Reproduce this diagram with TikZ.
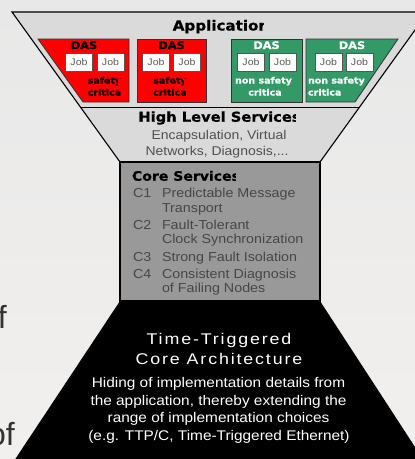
\documentclass[tikz,border=0pt]{standalone}
\usepackage{fontspec}
\setmainfont{Liberation Sans}
\newfontfamily\wide{Liberation Sans}[FakeStretch=1.1]
\newfontfamily\heavy{DejaVu Sans}[FakeStretch=1.08,BoldFeatures={FakeBold=0.7}]
\newfontfamily\spaced{Liberation Sans}[FakeStretch=1.15,LetterSpace=12]
\definecolor{bgtop}{HTML}{E8E8E8}
\definecolor{bgbot}{HTML}{F2F0EE}
\definecolor{trapfill}{HTML}{DADADA}
\definecolor{coregray}{HTML}{999999}
\definecolor{coretxt}{HTML}{474747}
\definecolor{subtxt}{HTML}{505050}
\definecolor{dasred}{HTML}{FF0000}
\definecolor{dasgreen}{HTML}{339966}
\definecolor{dasline}{HTML}{333333}
\definecolor{jobline}{HTML}{555555}
\definecolor{jobtxt}{HTML}{5A5A5A}
\definecolor{fragtxt}{HTML}{333333}
\begin{document}
\begin{tikzpicture}[x=1pt,y=-1pt,
  every node/.style={inner sep=0pt,outer sep=0pt},
  trapstyle/.style={draw=black,line width=1.1pt,fill=trapfill},
  divider/.style={draw=black,line width=1pt},
  corebox/.style={draw=black,line width=1.2pt,fill=coregray},
  redbox/.style={draw=dasline,line width=0.8pt,fill=dasred},
  greenbox/.style={draw=dasline,line width=0.8pt,fill=dasgreen},
  jobbox/.style={draw=jobline,fill=white,line width=0.8pt,minimum width=27pt,minimum height=18pt,
    font=\wide\fontsize{9.6}{10}\selectfont,text=jobtxt},
  dastitle/.style={anchor=base,font=\heavy\bfseries\fontsize{10.5}{12}\selectfont},
  dastext/.style={anchor=base,font=\heavy\bfseries\fontsize{8.8}{12}\selectfont},
  header/.style={anchor=base,font=\heavy\bfseries\fontsize{13.6}{15}\selectfont,text=black},
  subtext/.style={anchor=base,font=\wide\fontsize{12.7}{14}\selectfont,text=subtxt},
  coretext/.style={anchor=base west,font=\wide\fontsize{13}{14}\selectfont,text=coretxt},
  archtitle/.style={anchor=base,font=\spaced\fontsize{15.5}{17}\selectfont,text=white},
  archtext/.style={anchor=base,font=\wide\fontsize{14}{16}\selectfont,text=white},
  fragment/.style={anchor=base west,font=\fontsize{32}{34}\selectfont,text=fragtxt}]
\useasboundingbox (0,0) rectangle (415,459);
\clip (0,0) rectangle (415,459);
\shade[top color=bgtop,bottom color=bgbot] (0,0) rectangle (415,459);

% cut-off slide text on the left
\node[fragment] (fragf) at (-2,328) {f};
\node[fragment] (fragof) at (-12,445) {of};

% black base
\fill[black] (120,301) -- (320,301) -- (430,470) -- (8,470) -- cycle;

% upper trapezoid: Application + High Level Services
\path[trapstyle] (12,12) -- (428,12) -- (320,162) -- (120,162) -- cycle;
\draw[divider] (80.4,107) -- (359.6,107);

% core services box
\path[corebox] (120,162) rectangle (320,301);

% DAS boxes
\path[redbox] (38,39) -- (129,39) -- (129,102) -- (83,102) -- cycle;
\path[redbox] (137,39) rectangle (206,102);
\path[greenbox] (231,39) rectangle (302,102);
\path[greenbox] (306,39) -- (398,39) -- (355,102) -- (306,102) -- cycle;

% Application header
\node[header,font=\heavy\bfseries\fontsize{14}{15}\selectfont] (app) at (221,30.5) {Application};
\fill[trapfill] ([xshift=-5.3pt,yshift=-3pt]app.base east) rectangle ([xshift=1pt,yshift=12pt]app.base east);

% DAS titles
\node[dastitle,text=black] (das1) at (84,49) {DAS};
\node[dastitle,text=black] (das2) at (171.5,49) {DAS};
\node[dastitle,text=white] (das3) at (266.5,49) {DAS};
\node[dastitle,text=white] (das4) at (352,49) {DAS};

% Jobs
\node[jobbox] (j1a) at (79,62) {Job};
\node[jobbox] (j1b) at (110.5,62) {Job};
\node[jobbox] (j2a) at (156,62) {Job};
\node[jobbox] (j2b) at (187,62) {Job};
\node[jobbox] (j3a) at (251,62) {Job};
\node[jobbox] (j3b) at (282.5,62) {Job};
\node[jobbox] (j4a) at (328.5,62) {Job};
\node[jobbox] (j4b) at (359.5,62) {Job};

% DAS texts
\node[dastext,text=black] (s1a) at (104.5,83.5) {safety};
\fill[dasred] ([xshift=-2.9pt,yshift=-3pt]s1a.base east) rectangle ([xshift=1pt,yshift=5pt]s1a.base east);
\node[dastext,text=black] (s1b) at (104.5,95.5) {critica};
\node[dastext,text=black] (s2a) at (170,83.5) {safety};
\fill[dasred] ([xshift=-2.9pt,yshift=-3pt]s2a.base east) rectangle ([xshift=1pt,yshift=5pt]s2a.base east);
\node[dastext,text=black] (s2b) at (170,95.5) {critica};
\node[dastext,text=white] (s3a) at (263.5,83.5) {non safety};
\node[dastext,text=white] (s3b) at (265,95.5) {critica};
\begin{scope}
  \clip (306,39) -- (397,39) -- (354,102) -- (306,102) -- cycle;
  \node[dastext,text=white,anchor=base west] (s4a) at (308,83.5) {non safety};
  \node[dastext,text=white,anchor=base west] (s4b) at (308,95.5) {critica};
\end{scope}

% High level services
\node[header] (hls) at (219.5,121.7) {High Level Services};
\fill[trapfill] ([xshift=-4.2pt,yshift=-3pt]hls.base east) rectangle ([xshift=1pt,yshift=12pt]hls.base east);
\node[subtext] (hls1) at (219,139) {Encapsulation, Virtual};
\node[subtext] (hls2) at (217,155) {Networks, Diagnosis,...};

% Core services
\node[header,anchor=base west,font=\heavy\bfseries\fontsize{13}{14}\selectfont] (cs) at (132,180.7) {Core Services};
\fill[coregray] ([xshift=-3.9pt,yshift=-3pt]cs.base east) rectangle ([xshift=1pt,yshift=11pt]cs.base east);
\node[coretext] (c1) at (133,197.7) {C1};
\node[coretext] (c1a) at (162,197.7) {Predictable Message};
\node[coretext] (c1b) at (162,212) {Transport};
\node[coretext] (c2) at (133,229.3) {C2};
\node[coretext] (c2a) at (162,229.3) {Fault-Tolerant};
\node[coretext] (c2b) at (162,243.5) {Clock Synchronization};
\node[coretext] (c3) at (133,261) {C3};
\node[coretext] (c3a) at (162,261) {Strong Fault Isolation};
\node[coretext] (c4) at (133,278.3) {C4};
\node[coretext] (c4a) at (162,278.3) {Consistent Diagnosis};
\node[coretext] (c4b) at (162,292.6) {of Failing Nodes};

% Time-triggered core architecture
\node[archtitle] (tt1) at (219,344.3) {Time-Triggered};
\node[archtitle] (tt2) at (219,364) {Core Architecture};
\node[archtext] (h1) at (218.5,387.3) {Hiding of implementation details from};
\node[archtext] (h2) at (218.5,405) {the application, thereby extending the};
\node[archtext] (h3) at (218.5,422.7) {range of implementation choices};
\node[archtext] (h4) at (219,440.7) {(e.g. TTP/C, Time-Triggered Ethernet)};
\end{tikzpicture}
\end{document}
